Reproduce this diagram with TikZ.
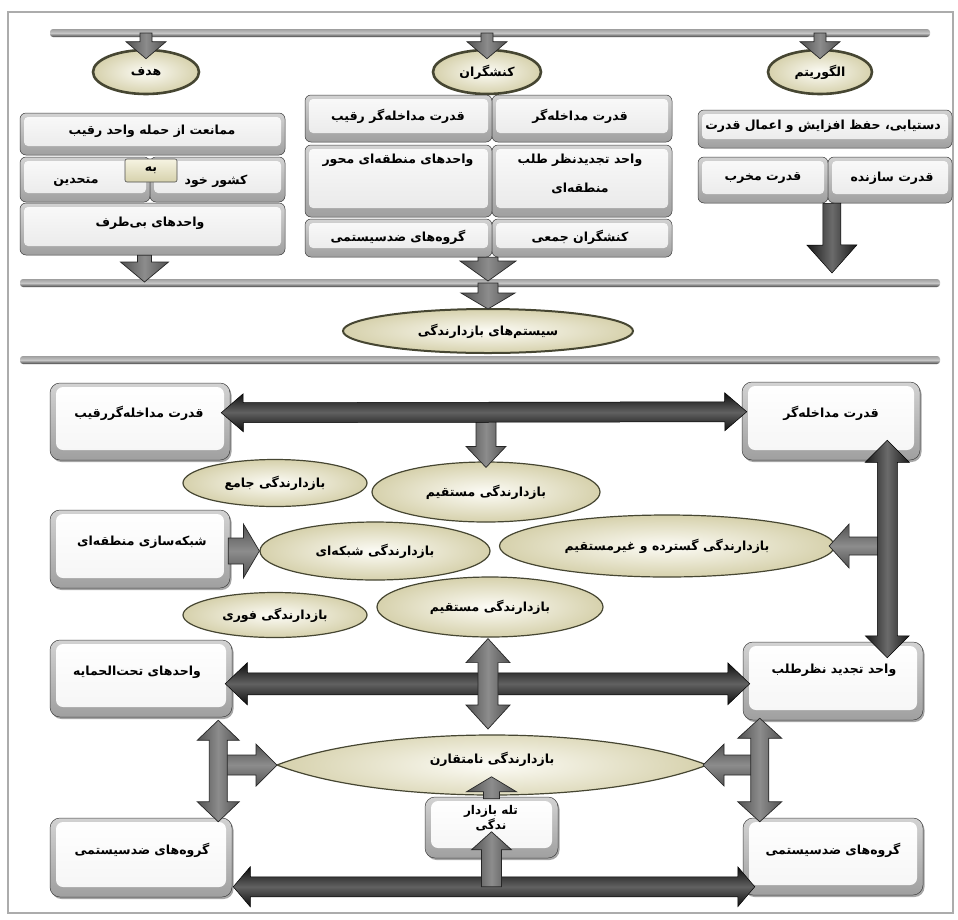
\documentclass[tikz,border=0pt]{standalone}
\usepackage{fontspec}
\usetikzlibrary{calc,shapes.geometric,shadows}
\TeXXeTstate=1
\newfontfamily\farsi[Script=Arabic]{DejaVu Sans}
\newcommand{\fatx}[1]{\beginR #1\endR}
\definecolor{cream}{RGB}{246,244,226}
\definecolor{creamd}{RGB}{214,209,172}
\definecolor{olivedk}{RGB}{70,70,50}
% single block arrow: style, from, tip, shaft half-width, head half-width, head length
\newcommand{\sarrow}[6]{%
 \coordinate (saS) at (#2);
 \coordinate (saT) at (#3);
 \coordinate (saB) at ($(saT)!#6!(saS)$);
 \path[#1] ($(saS)!#4!90:(saT)$) -- ($(saB)!#4!90:(saT)$) -- ($(saB)!#5!90:(saT)$) -- (saT) -- ($(saB)!#5!-90:(saT)$) -- ($(saB)!#4!-90:(saT)$) -- ($(saS)!#4!-90:(saT)$) -- cycle;}
% double block arrow
\newcommand{\darrow}[6]{%
 \coordinate (daA) at (#2);
 \coordinate (daB) at (#3);
 \coordinate (daA2) at ($(daA)!#6!(daB)$);
 \coordinate (daB2) at ($(daB)!#6!(daA)$);
 \path[#1] (daA) -- ($(daA2)!#5!90:(daB)$) -- ($(daA2)!#4!90:(daB)$) -- ($(daB2)!#4!90:(daB)$) -- ($(daB2)!#5!90:(daB)$) -- (daB) -- ($(daB2)!#5!-90:(daB)$) -- ($(daB2)!#4!-90:(daB)$) -- ($(daA2)!#4!-90:(daB)$) -- ($(daA2)!#5!-90:(daB)$) -- cycle;}
\tikzset{
 txt/.style={font=\farsi\bfseries\fontsize{12.5}{15}\selectfont, inner sep=0pt, align=center, text=black},
 boxw/.style={rectangle, rounded corners=10pt, draw=gray!50!black, line width=0.5pt, top color=gray!35, bottom color=gray!75, inner sep=0pt,
   drop shadow={shadow xshift=1.5pt, shadow yshift=-2pt, opacity=0.35, fill=black},
   path picture={\shade[top color=white, bottom color=gray!8, rounded corners=7pt] ($(path picture bounding box.south west)+(6pt,10pt)$) rectangle ($(path picture bounding box.north east)+(-6pt,-4pt)$);}},
 boxg/.style={rectangle, rounded corners=6pt, draw=gray!45!black, line width=0.5pt, top color=gray!35, bottom color=gray!75, inner sep=0pt,
   path picture={\shade[top color=gray!4, bottom color=gray!18, rounded corners=4pt] ($(path picture bounding box.south west)+(4pt,9pt)$) rectangle ($(path picture bounding box.north east)+(-4pt,-4pt)$);}},
 behbox/.style={rectangle, rounded corners=2pt, draw=gray!60!black, line width=0.6pt, top color=cream, bottom color=creamd, inner sep=0pt},
 ellc/.style={ellipse, draw=olivedk, line width=1.2pt, inner color=cream!30, outer color=creamd, inner sep=0pt},
 ellt/.style={ellc, line width=2.6pt},
 harr/.style={top color=black!95, bottom color=black!95, middle color=black!62, draw=black, line width=0.5pt},
 varr/.style={left color=black!90, right color=black!90, middle color=black!58, draw=black, line width=0.5pt},
 hgray/.style={top color=black!68, bottom color=black!68, middle color=black!45, draw=black!85, line width=0.7pt},
 vgray/.style={left color=black!68, right color=black!68, middle color=black!45, draw=black!85, line width=0.7pt},
 barst/.style={top color=gray!75, bottom color=gray!55!black, middle color=gray!45, rounded corners=3pt},
}
\begin{document}
\begin{tikzpicture}[x=1pt,y=-1pt]
\fill[white] (0,0) rectangle (958,919);
\useasboundingbox (0,0) rectangle (958,919);
\draw[gray!65, line width=1.4pt] (8,12) rectangle (953,913);

% ---------- top section ----------
\coordinate (bar1L) at (50,33); \coordinate (bar1R) at (930,33);
\shade[barst] ($(bar1L)+(0,-4)$) rectangle ($(bar1R)+(0,4)$);

\node[ellt, txt, minimum width=106pt, minimum height=44pt] (g1) at (146,72) {\fatx{هدف}};
\node[ellt, txt, minimum width=108pt, minimum height=44pt] (g2) at (487,72) {\fatx{کنشگران}};
\node[ellt, txt, minimum width=104pt, minimum height=44pt] (g3) at (820,72) {\fatx{الگوریتم}};

% left column
\node[boxg, minimum width=265pt, minimum height=42pt] (L1) at (152.5,134) {};
\node[txt] (L1t) at (152,131) {\fatx{ممانعت از حمله واحد رقیب}};
\node[boxg, minimum width=130pt, minimum height=45pt] (L2b) at (85,179.5) {};
\node[boxg, minimum width=135pt, minimum height=45pt] (L2a) at (217.5,179.5) {};
\node[txt] (L2at) at (216,181) {\fatx{کشور خود}};
\node[txt] (L2bt) at (76,182) {\fatx{متحدین}};
\node[behbox, minimum width=52pt, minimum height=23pt] (beh) at (151,170.5) {};
\node[txt] (beht) at (beh.center) {\fatx{به}};
\node[boxg, minimum width=265pt, minimum height=52pt] (L3) at (152.5,229) {};
\node[txt] (L3t) at (150,223) {\fatx{واحدهای بی^^^^200cطرف}};

% middle column
\node[boxg, minimum width=187pt, minimum height=47pt] (M1L) at (398.5,118.5) {};
\node[boxg, minimum width=180pt, minimum height=47pt] (M1R) at (582,118.5) {};
\node[txt] (M1Lt) at (398,116) {\fatx{قدرت مداخله^^^^200cگر رقیب}};
\node[txt] (M1Rt) at (580,116) {\fatx{قدرت مداخله^^^^200cگر}};
\node[boxg, minimum width=187pt, minimum height=72pt] (M2L) at (398.5,181) {};
\node[boxg, minimum width=180pt, minimum height=72pt] (M2R) at (582,181) {};
\node[txt] (M2Lt) at (398,160) {\fatx{واحدهای منطقه^^^^200cای محور}};
\node[txt] (M2Rt1) at (580,160) {\fatx{واحد تجدیدنظر طلب}};
\node[txt] (M2Rt2) at (580,188) {\fatx{منطقه^^^^200cای}};
\node[boxg, minimum width=187pt, minimum height=38pt] (M3L) at (398.5,238) {};
\node[boxg, minimum width=180pt, minimum height=38pt] (M3R) at (582,238) {};
\node[txt] (M3Lt) at (398,237) {\fatx{گروه^^^^200cهای ضدسیستمی}};
\node[txt] (M3Rt) at (580,237) {\fatx{کنشگران جمعی}};

% right column
\node[boxg, minimum width=254pt, minimum height=38pt] (R1) at (825,129) {};
\node[txt] (R1t) at (823,126) {\fatx{دستیابی، حفظ افزایش و اعمال قدرت}};
\node[boxg, minimum width=130pt, minimum height=46pt] (R2L) at (763,180) {};
\node[boxg, minimum width=124pt, minimum height=46pt] (R2R) at (890,180) {};
\node[txt] (R2Lt) at (763,178) {\fatx{قدرت مخرب}};
\node[txt] (R2Rt) at (892,178) {\fatx{قدرت سازنده}};

% arrows top section
\sarrow{vgray}{g1.north |- bar1L}{$(g1.north)+(0,10)$}{6pt}{20pt}{17pt}
\sarrow{vgray}{g2.north |- bar1L}{$(g2.north)+(0,10)$}{6pt}{20pt}{17pt}
\sarrow{vgray}{g3.north |- bar1L}{$(g3.north)+(0,10)$}{6pt}{20pt}{17pt}

\coordinate (bar2L) at (20,283); \coordinate (bar2R) at (940,283);
\shade[barst] ($(bar2L)+(0,-4)$) rectangle ($(bar2R)+(0,4)$);
\node[ellc, txt, line width=2pt, minimum width=290pt, minimum height=44pt] (sys) at (488,331) {\fatx{سیستم^^^^200cهای بازدارندگی}};
\coordinate (bar3L) at (20,360); \coordinate (bar3R) at (940,360);
\shade[barst] ($(bar3L)+(0,-4)$) rectangle ($(bar3R)+(0,4)$);

\sarrow{vgray}{$(L3.south)+(-8,0)$}{$(L3.south |- bar2L)+(-8,-1)$}{7pt}{24pt}{20pt}
\sarrow{vgray}{sys.north |- M3L.south}{$(sys.north |- bar2L)+(0,-2)$}{10pt}{28pt}{20pt}
\sarrow{vgray}{sys.north |- bar2L}{$(sys.north)+(0,1)$}{10pt}{27pt}{16pt}
\coordinate (algEnd) at (832,273);
\sarrow{varr}{$(R2R.south west)+(4,0)$}{algEnd}{9pt}{25pt}{28pt}

% ---------- bottom section ----------
\node[boxw, minimum width=180pt, minimum height=77pt] (lr1) at (140,421.5) {};
\node[boxw, minimum width=178pt, minimum height=78pt] (rr1) at (831,421) {};
\node[boxw, minimum width=180pt, minimum height=78pt] (ln) at (140,549) {};
\node[boxw, minimum width=182pt, minimum height=77pt] (lr2) at (141,678.5) {};
\node[boxw, minimum width=180pt, minimum height=78pt] (rr2) at (833,681) {};
\node[boxw, minimum width=182pt, minimum height=79pt] (lr3) at (141,857.5) {};
\node[boxw, minimum width=180pt, minimum height=77pt] (rr3) at (833,856.5) {};
\node[boxw, minimum width=133pt, minimum height=61pt] (trap) at (491.5,827.5) {};

\node[txt] (lr1t) at (139,413) {\fatx{قدرت مداخله^^^^200cگررقیب}};
\node[txt] (rr1t) at (831,413) {\fatx{قدرت مداخله^^^^200cگر}};
\node[txt] (lnt) at (142,542) {\fatx{شبکه^^^^200cسازی منطقه^^^^200cای}};
\node[txt] (lr2t) at (137,672) {\fatx{واحدهای تحت^^^^200cالحمایه}};
\node[txt] (rr2t) at (834,670) {\fatx{واحد تجدید نظرطلب}};
\node[txt] (lr3t) at (142,850) {\fatx{گروه^^^^200cهای ضدسیستمی}};
\node[txt] (rr3t) at (833,850) {\fatx{گروه^^^^200cهای ضدسیستمی}};
\node[txt, font=\farsi\bfseries\fontsize{12}{11}\selectfont] (trapt) at (491,818) {\fatx{تله بازدار}\\\fatx{ندگی}};

\node[ellc, txt, minimum width=184pt, minimum height=47pt] (ejam) at (275,483) {\fatx{بازدارندگی جامع}};
\node[ellc, txt, minimum width=228pt, minimum height=60pt] (emos1) at (486,492) {\fatx{بازدارندگی مستقیم}};
\node[ellc, txt, minimum width=230pt, minimum height=58pt] (eshab) at (375,551) {\fatx{بازدارندگی شبکه^^^^200cای}};
\node[ellc, txt, minimum width=335pt, minimum height=62pt] (egos) at (667,546) {\fatx{بازدارندگی گسترده و غیرمستقیم}};
\node[ellc, txt, minimum width=226pt, minimum height=60pt] (emos2) at (490,607) {\fatx{بازدارندگی مستقیم}};
\node[ellc, txt, minimum width=184pt, minimum height=45pt] (efor) at (275,615) {\fatx{بازدارندگی فوری}};

\coordinate (asL) at (277,765); \coordinate (asR) at (707,765);
\shadedraw[inner color=cream!30, outer color=creamd, draw=olivedk, line width=1.2pt] (asL) .. controls (380,725) and (604,725) .. (asR) .. controls (604,805) and (380,805) .. (asL) -- cycle;
\node[txt] (asym) at (492,759) {\fatx{بازدارندگی نامتقارن}};

% connectors
\coordinate (a1L) at ($(lr1.north east)+(-9,30)$);
\coordinate (a1R) at ($(rr1.north west)+(5,30)$);
\sarrow{vgray}{emos1.north |- a1L}{$(emos1.north)+(0,6)$}{10pt}{20pt}{21pt}
\darrow{harr}{a1L}{a1R}{10pt}{19pt}{22pt}

\sarrow{hgray}{$(ln.east |- eshab.west)+(-2,0)$}{eshab.west}{13pt}{27pt}{16pt}

\coordinate (v1T) at ($(rr1.south east)+(-33,-20)$);
\coordinate (v1B) at ($(rr2.north east)+(-36,16)$);
\sarrow{hgray}{v1T |- egos.east}{$(egos.east)+(-6,0)$}{9pt}{22pt}{20pt}
\darrow{varr}{v1T}{v1B}{10pt}{22pt}{22pt}

\coordinate (a2L) at ($(lr2.north east)+(-7,44)$);
\coordinate (a2R) at ($(rr2.north west)+(7,42)$);
\darrow{harr}{a2L}{a2R}{11pt}{21pt}{22pt}
\darrow{vgray}{$(emos2.south)+(-2,1)$}{$(asym |- asL)+(-4,-36)$}{10pt}{22pt}{24pt}

\coordinate (v3T) at ($(lr2.south east)+(-14,3)$);
\coordinate (v3B) at ($(lr3.north east)+(-14,4)$);
\sarrow{hgray}{v3T |- asL}{asL}{10pt}{21pt}{21pt}
\darrow{vgray}{v3T}{v3B}{9pt}{21pt}{20pt}
\coordinate (v4T) at ($(rr2.south west)+(17,-2)$);
\coordinate (v4B) at ($(rr3.north west)+(17,4)$);
\sarrow{hgray}{v4T |- asR}{$(asR)+(-4,0)$}{10pt}{21pt}{21pt}
\darrow{vgray}{v4T}{v4B}{9pt}{22pt}{20pt}

\coordinate (a3L) at ($(lr3.north east)+(1,69)$);
\coordinate (a3R) at ($(rr3.north west)+(12,69)$);
\darrow{harr}{a3L}{a3R}{10pt}{20pt}{17pt}
\sarrow{vgray}{trap.south |- a3L}{$(trap.north)+(0,35)$}{10pt}{20pt}{18pt}
\sarrow{vgray}{$(trap.north)+(0,2)$}{$(trap.north)+(0,-20)$}{8pt}{25pt}{15pt}
\end{tikzpicture}
\end{document}
